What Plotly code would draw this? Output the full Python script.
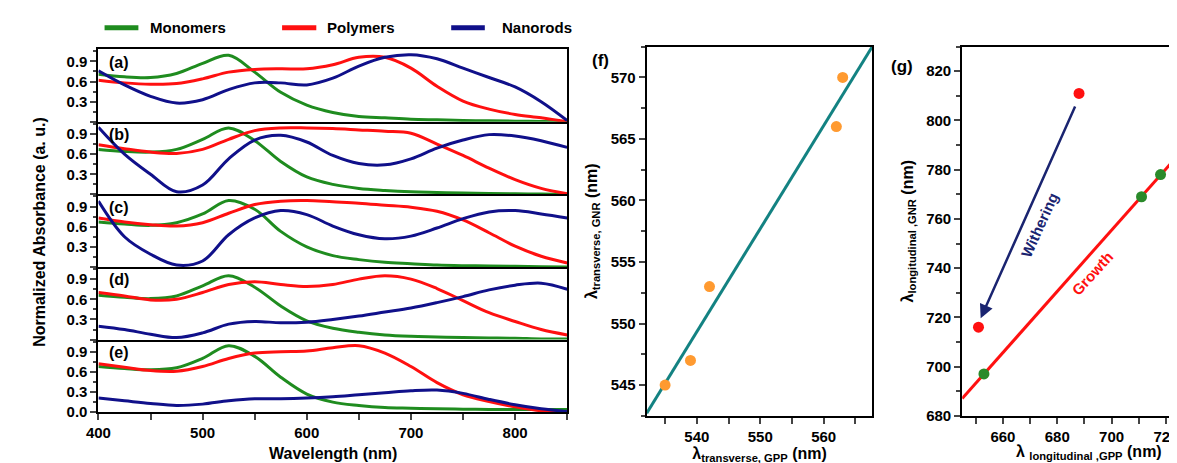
import numpy as np
import plotly.graph_objects as go

# ---------------- data ----------------
wavelength = [400, 425, 450, 475, 500, 525, 550, 575, 600, 625, 650, 675, 700, 725, 750, 775, 800, 825, 850]

mono_a = [0.71, 0.67, 0.66, 0.72, 0.87, 0.99, 0.74, 0.44, 0.25, 0.14, 0.08, 0.06, 0.04, 0.03, 0.02, 0.015, 0.01, 0.005, 0.0]
poly_a = [0.62, 0.58, 0.56, 0.57, 0.64, 0.74, 0.78, 0.79, 0.79, 0.85, 0.96, 0.96, 0.80, 0.53, 0.31, 0.19, 0.11, 0.06, 0.0]
rods_a = [0.76, 0.55, 0.38, 0.28, 0.33, 0.48, 0.58, 0.58, 0.55, 0.65, 0.83, 0.96, 1.0, 0.94, 0.80, 0.66, 0.52, 0.30, 0.02]

mono_b = [0.67, 0.64, 0.63, 0.67, 0.82, 0.99, 0.80, 0.49, 0.26, 0.15, 0.09, 0.06, 0.04, 0.03, 0.02, 0.015, 0.01, 0.005, 0.0]
poly_b = [0.74, 0.68, 0.63, 0.61, 0.67, 0.82, 0.95, 0.99, 0.99, 0.98, 0.96, 0.94, 0.91, 0.75, 0.58, 0.39, 0.22, 0.09, 0.01]
rods_b = [1.0, 0.60, 0.30, 0.04, 0.14, 0.53, 0.81, 0.88, 0.78, 0.58, 0.46, 0.44, 0.53, 0.69, 0.81, 0.89, 0.87, 0.80, 0.70]

mono_c = [0.67, 0.64, 0.62, 0.66, 0.79, 0.99, 0.86, 0.53, 0.30, 0.17, 0.11, 0.07, 0.05, 0.03, 0.02, 0.015, 0.01, 0.005, 0.0]
poly_c = [0.73, 0.67, 0.63, 0.61, 0.66, 0.80, 0.93, 0.98, 0.99, 0.97, 0.95, 0.92, 0.89, 0.83, 0.70, 0.51, 0.31, 0.16, 0.06]
rods_c = [0.98, 0.45, 0.19, 0.03, 0.09, 0.48, 0.73, 0.84, 0.78, 0.61, 0.48, 0.42, 0.46, 0.58, 0.72, 0.82, 0.84, 0.79, 0.73]

mono_d = [0.66, 0.63, 0.61, 0.65, 0.80, 0.95, 0.78, 0.50, 0.28, 0.17, 0.11, 0.07, 0.05, 0.04, 0.03, 0.025, 0.02, 0.01, 0.01]
poly_d = [0.70, 0.65, 0.59, 0.60, 0.70, 0.82, 0.86, 0.82, 0.79, 0.82, 0.90, 0.95, 0.90, 0.76, 0.58, 0.40, 0.27, 0.15, 0.07]
rods_d = [0.20, 0.15, 0.08, 0.03, 0.10, 0.23, 0.27, 0.25, 0.26, 0.30, 0.35, 0.41, 0.47, 0.55, 0.64, 0.74, 0.81, 0.84, 0.75]

mono_e = [0.68, 0.65, 0.63, 0.66, 0.80, 0.99, 0.83, 0.52, 0.27, 0.15, 0.10, 0.07, 0.06, 0.05, 0.045, 0.04, 0.04, 0.04, 0.04]
poly_e = [0.72, 0.67, 0.62, 0.61, 0.68, 0.80, 0.88, 0.90, 0.91, 0.96, 0.99, 0.88, 0.68, 0.44, 0.26, 0.16, 0.08, 0.02, 0.0]
rods_e = [0.21, 0.17, 0.13, 0.10, 0.12, 0.17, 0.20, 0.20, 0.21, 0.23, 0.26, 0.29, 0.32, 0.33, 0.28, 0.19, 0.11, 0.05, 0.01]

panel_labels = ["(a)", "(b)", "(c)", "(d)", "(e)"]
series_names = ["Monomers", "Polymers", "Nanorods"]
wl_ticks = [400, 500, 600, 700, 800]
abs_ticks = [0.0, 0.3, 0.6, 0.9]

trans_gpp = [535, 539, 542, 562, 563]
trans_gnr = [545, 547, 553, 566, 570]
trans_ticks_x = [540, 550, 560]
trans_ticks_y = [545, 550, 555, 560, 565, 570]

long_gpp_wither = [688, 651]
long_gnr_wither = [811, 716]
long_gpp_growth = [653, 711, 718]
long_gnr_growth = [697, 769, 778]
long_ticks_x = [660, 680, 700, 720]
long_ticks_y = [680, 700, 720, 740, 760, 780, 800, 820]

# ---------------- styles ----------------
W, H = 1177, 463
GREEN = "#1f8c1f"
RED = "#ff1010"
NAVY = "#10108a"
ORANGE = "#ff9a30"
TEAL = "#138282"
FONT = "Liberation Sans, Arial, sans-serif"

def px_x(p):
    return p / W

def px_y(p):
    return 1 - p / H

fig = go.Figure()

panels = [
    (mono_a, poly_a, rods_a),
    (mono_b, poly_b, rods_b),
    (mono_c, poly_c, rods_c),
    (mono_d, poly_d, rods_d),
    (mono_e, poly_e, rods_e),
]
colors = [GREEN, RED, NAVY]

left_x0, left_x1 = 78.3, 552.3
top0, bot0 = 42.0, 411.3
ph = (bot0 - top0) / 5

axis_common = dict(showline=True, linecolor="black", linewidth=2, mirror=True,
                   showgrid=False, zeroline=False,
                   tickfont=dict(family=FONT, size=15, color="black", weight="bold"))

layout_axes = {}
for i, curves in enumerate(panels):
    n = i + 1
    for name, ys, c in zip(series_names, curves, colors):
        fig.add_trace(go.Scatter(x=wavelength, y=ys, mode="lines", name=name,
                                 line=dict(color=c, width=3, shape="spline", smoothing=1.0),
                                 xaxis=f"x{n}", yaxis=f"y{n}", showlegend=False))
    top = top0 + i * ph
    bot = top + ph
    xa = dict(axis_common, domain=[px_x(left_x0), px_x(left_x1)], range=[400, 850],
              anchor=f"y{n}", mirror=(i == 0))
    if i == 4:
        xa.update(ticks="outside", ticklen=6, tickwidth=2, tickvals=wl_ticks,
                  showticklabels=True,
                  minor=dict(tickvals=[450, 550, 650, 750, 850], ticks="outside", ticklen=6, tickwidth=2))
    else:
        xa.update(ticks="", showticklabels=False)
    ya = dict(axis_common, domain=[px_y(bot), px_y(top)], range=[0, 1.08], anchor=f"x{n}",
              ticks="outside", ticklen=6, tickwidth=2, tickvals=abs_ticks,
              ticktext=[("0.0" if i == 4 else " ")] + ["0.3", "0.6", "0.9"],
              minor=dict(tickvals=[0.15, 0.45, 0.75, 1.05], ticks="outside", ticklen=3, tickwidth=2))
    layout_axes[f"xaxis{n}"] = xa
    layout_axes[f"yaxis{n}"] = ya

# ---------------- panel (f) ----------------
f_xr = [532.1, 567.7]
f_yr = [542.5, 572.5]
k_f, b_f = np.polyfit(trans_gpp, trans_gnr, 1)
fig.add_trace(go.Scatter(x=f_xr, y=[k_f * f_xr[0] + b_f, k_f * f_xr[1] + b_f], mode="lines",
                         line=dict(color=TEAL, width=3), xaxis="x6", yaxis="y6", showlegend=False))
fig.add_trace(go.Scatter(x=trans_gpp, y=trans_gnr, mode="markers",
                         marker=dict(color=ORANGE, size=11), xaxis="x6", yaxis="y6", showlegend=False))
layout_axes["xaxis6"] = dict(axis_common, domain=[px_x(632.7), px_x(861)], range=f_xr, anchor="y6",
                             ticks="outside", ticklen=6, tickwidth=2, tickvals=trans_ticks_x,
                             minor=dict(tickvals=[535, 545, 555, 565], ticks="outside", ticklen=6, tickwidth=2),
                             title=dict(text="λ<sub>transverse, GPP</sub> (nm)", standoff=2,
                                        font=dict(family=FONT, size=16, color="black", weight="bold")))
layout_axes["yaxis6"] = dict(axis_common, domain=[px_y(415), px_y(39.3)], range=f_yr, anchor="x6",
                             ticks="outside", ticklen=6, tickwidth=2, tickvals=trans_ticks_y,
                             minor=dict(dtick=2.5, tick0=545, ticks="outside", ticklen=4, tickwidth=2),
                             title=dict(text="λ<sub>transverse, GNR</sub> (nm)", standoff=9,
                                        font=dict(family=FONT, size=16, color="black", weight="bold")))

# ---------------- panel (g) ----------------
g_xr = [645.0, 727.0]
g_yr = [680, 830]
k_g, b_g = np.polyfit(long_gpp_growth, long_gnr_growth, 1)
fig.add_trace(go.Scatter(x=g_xr, y=[k_g * g_xr[0] + b_g, k_g * g_xr[1] + b_g], mode="lines",
                         line=dict(color=RED, width=3), xaxis="x7", yaxis="y7", showlegend=False))
fig.add_trace(go.Scatter(x=long_gpp_growth, y=long_gnr_growth, mode="markers",
                         marker=dict(color="#2a8a2a", size=11), xaxis="x7", yaxis="y7", showlegend=False))
fig.add_trace(go.Scatter(x=long_gpp_wither, y=long_gnr_wither, mode="markers",
                         marker=dict(color=RED, size=11), xaxis="x7", yaxis="y7", showlegend=False))
layout_axes["xaxis7"] = dict(axis_common, domain=[px_x(951.7), 1.0], range=g_xr, anchor="y7",
                             ticks="outside", ticklen=6, tickwidth=2, tickvals=long_ticks_x,
                             minor=dict(tickvals=[650, 670, 690, 710], ticks="outside", ticklen=6, tickwidth=2))
layout_axes["yaxis7"] = dict(axis_common, domain=[px_y(415), px_y(39.3)], range=g_yr, anchor="x7",
                             mirror=False,
                             ticks="outside", ticklen=6, tickwidth=2, tickvals=long_ticks_y,
                             minor=dict(dtick=10, tick0=680, ticks="outside", ticklen=4, tickwidth=2),
                             title=dict(text="λ<sub>longitudinal ,GNR</sub> (nm)", standoff=9,
                                        font=dict(family=FONT, size=16, color="black", weight="bold")))

# ---------------- annotations & shapes ----------------
ann = []
shapes = []
bold = lambda s: f"<b>{s}</b>"

def txt(text, x, y, size=16, color="black", xanchor="center", yanchor="middle", angle=0,
        xref="paper", yref="paper"):
    return dict(text=bold(text), xref=xref, yref=yref, x=x, y=y, xanchor=xanchor, yanchor=yanchor,
                textangle=angle, showarrow=False, font=dict(family=FONT, size=size, color=color))

# panel labels (a)-(e)
for i, lab in enumerate(panel_labels):
    top = top0 + i * ph
    ann.append(txt(lab, px_x(87), px_y(top + 13), xanchor="left"))

# manual legend
leg_y = px_y(20)
for (x0, x1, tx), name, c in zip([(84.5, 118.7, 128), (264, 298.6, 307.5), (435, 469, 484)],
                                 series_names, colors):
    shapes.append(dict(type="line", xref="paper", yref="paper", x0=px_x(x0), x1=px_x(x1),
                       y0=leg_y, y1=leg_y, line=dict(color=c, width=5)))
    ann.append(txt(name, px_x(tx), leg_y, size=15, xanchor="left"))

# left axis titles
ann.append(txt("Normalized Absorbance (a. u.)", px_x(18), px_y(228), angle=-90))
ann.append(txt("Wavelength (nm)", px_x(315), px_y(453)))

# (g) x title
ann.append(txt("λ <sub>longitudinal ,GPP</sub> (nm)", px_x(1080), px_y(452)))

# panel labels f, g
ann.append(txt("(f)", px_x(586), px_y(53), size=17))
ann.append(txt("(g)", px_x(891), px_y(60), size=17))

# withering arrow & labels
ann.append(dict(x=651.8, y=719.6, ax=686.8, ay=806.3, xref="x7", yref="y7", axref="x7", ayref="y7",
                text="", showarrow=True, arrowhead=2, arrowsize=1.1, arrowwidth=2.5, arrowcolor="#1a2470"))
ann.append(txt("Withering", 673.6, 757.6, size=15, color="#1a2470", angle=-65.6, xref="x7", yref="y7"))
ann.append(txt("Growth", 692.8, 737.9, size=15, color=RED, angle=-47.7, xref="x7", yref="y7"))

fig.update_layout(
    width=W, height=H,
    margin=dict(l=0, r=0, t=0, b=0),
    paper_bgcolor="white", plot_bgcolor="white",
    font=dict(family=FONT, size=15, color="black", weight="bold"),
    showlegend=False,
    annotations=ann, shapes=shapes,
    **layout_axes,
)

fig.write_html("out.html")
